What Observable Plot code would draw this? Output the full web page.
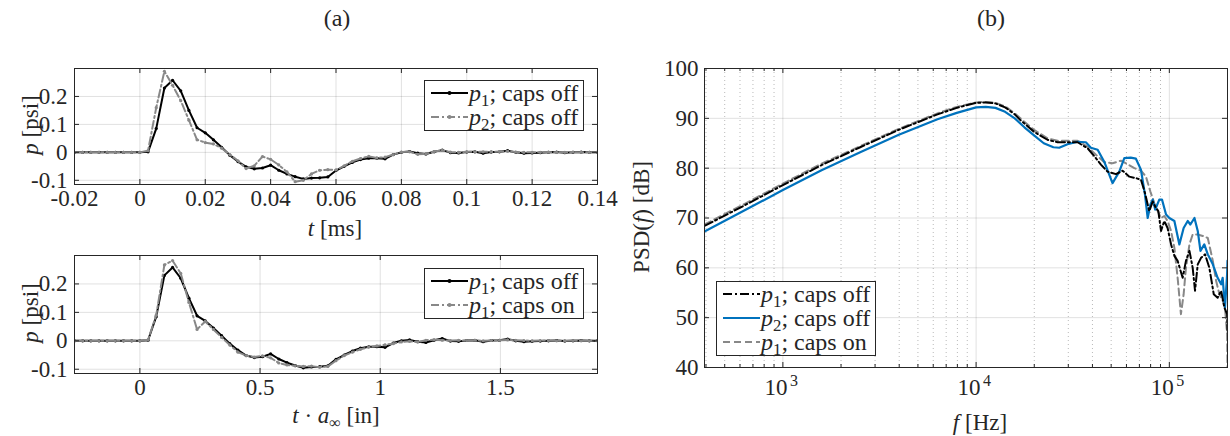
<!DOCTYPE html>
<html><head><meta charset="utf-8">
<script src="https://cdn.jsdelivr.net/npm/d3@7"></script>
<script src="https://cdn.jsdelivr.net/npm/@observablehq/plot@0.6"></script>
<style>
html,body{margin:0;padding:0;background:#fff;}
#wrap{position:relative;width:1230px;height:436px;overflow:hidden;font-family:"Liberation Serif","Times New Roman",serif;color:#262626;background:#fff;}
.lbl{position:absolute;white-space:nowrap;font-size:23px;line-height:1;}
.sub{font-size:0.7em;position:relative;top:0.3em;}
.leg{position:absolute;border:1px solid #262626;background:#fff;box-sizing:border-box;}
.row{position:absolute;left:0;right:0;height:22px;}
.row svg{position:absolute;top:0;}
.row span.t{position:absolute;font-size:24px;line-height:22px;white-space:nowrap;}
</style></head>
<body><div id="wrap"></div>
<script>
// ---------- data ----------
const tMs = [-0.02,-0.0175,-0.015,-0.0125,-0.01,-0.0075,-0.005,-0.0025,0,0.0025,0.005,0.0075,0.01,0.0125,0.015,0.0175,0.02,0.0225,0.025,0.0275,0.03,0.0325,0.035,0.0375,0.04,0.0425,0.045,0.0475,0.05,0.0525,0.055,0.0575,0.06,0.0625,0.065,0.0675,0.07,0.0725,0.075,0.0775,0.08,0.0825,0.085,0.0875,0.09,0.0925,0.095,0.0975,0.1,0.1025,0.105,0.1075,0.11,0.1125,0.115,0.1175,0.12,0.1225,0.125,0.1275,0.13,0.1325,0.135,0.1375,0.14];
const p1CapsOff = [0,0,0,0,0,0,0,0,0,0.002,0.085,0.23,0.258,0.22,0.15,0.088,0.07,0.045,0.018,-0.01,-0.033,-0.052,-0.059,-0.056,-0.046,-0.064,-0.077,-0.087,-0.095,-0.092,-0.091,-0.088,-0.065,-0.05,-0.036,-0.026,-0.021,-0.021,-0.023,-0.008,0,0.003,-0.003,-0.006,0.002,0.008,-0.001,-0.002,0.001,0.002,-0.003,0.001,0.002,0.006,0,-0.003,-0.002,-0.001,0,0.001,-0.001,0,0.001,0,0];
const p2CapsOff = [0,0,0,0,0,0,0,0,0,0.006,0.16,0.29,0.24,0.185,0.115,0.045,0.035,0.03,0.015,-0.008,-0.03,-0.058,-0.048,-0.015,-0.025,-0.045,-0.07,-0.105,-0.1,-0.077,-0.064,-0.062,-0.063,-0.048,-0.032,-0.022,-0.014,-0.02,-0.017,-0.008,0.001,0.002,-0.007,-0.006,0.003,0.007,0.001,0,0.002,0.002,0.002,0.002,0.003,0.004,0.001,0,0,0,0.001,0,0,0.001,0,0,0];
const p1CapsOn = [0,0,0,0,0,0,0,0,0,0.003,0.09,0.267,0.282,0.237,0.135,0.04,0.068,0.04,0.012,-0.015,-0.04,-0.052,-0.057,-0.053,-0.06,-0.078,-0.085,-0.088,-0.09,-0.089,-0.093,-0.09,-0.07,-0.052,-0.04,-0.03,-0.022,-0.018,-0.014,-0.01,-0.004,-0.002,-0.004,0.002,0.004,0.002,0.001,0.002,0.001,0.002,0,0.001,0.002,0.003,0.002,0.001,0,0.001,0.001,0,0,0.001,0,0,0];
const aInf = 13.6; // speed of sound, in/ms

const fP1Off = [393,631,1000,1585,2512,3981,6310,7943,10000,11220,12590,14130,15850,17000,19950,23390,26390,29720,33500,37760,41690,44260,47860,52970,57280,62090,67140,71290,74820,78700,82040,85310,87700,90570,94190,97950,102100,106200,110400,117200,121900,127100,132100,135800,140300,145900,153100,161100,169800,177800,185400,192800,199100,200000];
const psdP1Off = [68.4,72.5,76.6,80.6,84.2,87.7,90.8,92.1,93.1,93.2,93.0,92.2,90.8,89.6,87.3,85.7,85.2,85.2,85.2,84.0,82.0,80.7,79.3,78.8,79.5,78.3,78.0,77.7,75.0,71.4,73.3,72.0,71.4,67.4,69.4,68.0,64.7,62.4,61.4,58.0,61.4,63.4,60.0,55.4,60.7,62.0,62.7,60.0,54.7,54.0,55.4,52.0,50.7,47.4];
const fP2Off = [393,631,1000,1585,2512,3981,6310,7943,10000,11220,12590,14130,15850,17780,19950,22390,25120,26920,29720,33500,36980,39260,42560,46030,50820,55080,58480,63100,67140,71290,74820,77270,79800,82040,84530,88720,91620,96160,100000,106200,112700,118600,124500,128500,134900,140300,144900,151700,158100,167900,177800,185400,188800,194100,199100,200000];
const psdP2Off = [67.3,71.5,75.6,79.6,83.2,86.7,89.8,91.1,92.2,92.3,92.1,91.3,90.0,88.2,86.6,85.0,84.2,84.1,84.8,85.3,85.2,84.1,83.7,81.3,77.0,79.3,82.0,82.1,81.9,79.7,74.7,70.0,72.7,73.7,71.7,73.7,73.7,70.7,70.0,69.4,64.7,68.0,69.4,68.7,70.0,67.4,63.4,64.7,62.7,60.7,58.0,56.7,58.0,52.0,58.7,61.4];
const fP1On = [393,631,1000,1585,2512,3981,6310,7943,10000,11220,12590,14130,15850,17780,19950,23390,26390,29720,33500,37760,41690,46030,50820,56230,60810,65920,71290,75680,79800,83560,87100,90570,94190,97950,102100,106200,110400,114800,118600,121900,127100,132100,140300,148900,158100,167900,174600,181600,188800,194100,199100,200000];
const psdP1On = [68.7,72.8,76.9,80.9,84.4,87.9,91.0,92.3,93.2,93.3,93.1,92.4,91.0,89.3,87.7,86.0,85.5,85.5,85.5,84.3,82.7,81.2,81.0,81.5,80.8,80.0,79.5,78.3,75.3,73.0,71.4,70.0,70.4,69.4,67.4,64.0,58.0,50.7,54.7,60.0,64.7,66.7,66.7,66.4,66.0,61.4,57.4,54.7,53.4,52.0,46.7,40];

const xTicksT = [-0.02,0,0.02,0.04,0.06,0.08,0.1,0.12,0.14];
const xTicksTa = [0,0.5,1,1.5];
const yTicksP = [-0.1,0,0.1,0.2];
const xTicksF = [1e3,1e4,1e5];
const xTickExp = ["3","4","5"];
const xMinorF = [400,500,600,700,800,900,2000,3000,4000,5000,6000,7000,8000,9000,20000,30000,40000,50000,60000,70000,80000,90000,200000];
const yTicksPSD = [40,50,60,70,80,90,100];

// ---------- helpers ----------
const wrap = document.getElementById("wrap");
const AX = "#262626", GRAY = "#888888", BLUE = "#0072BD";
const FONT = '"Liberation Serif","Times New Roman",serif';
const FS = 23;
function place(node, left, top){ node.style.position="absolute"; node.style.left=left+"px"; node.style.top=top+"px"; wrap.appendChild(node); }
function label(html, cx, cy, rot, size){
  const d=document.createElement("div"); d.className="lbl"; d.innerHTML=html;
  d.style.left=cx+"px"; d.style.top=cy+"px";
  if(size) d.style.fontSize=size+"px";
  d.style.transform="translate(-50%,-50%)"+(rot?" rotate(-90deg)":"");
  wrap.appendChild(d);
}
function legend(left, top, w, h, rows){
  const L=document.createElement("div"); L.className="leg";
  Object.assign(L.style,{left:left+"px",top:top+"px",width:w+"px",height:h+"px"});
  rows.forEach(r=>{
    const R=document.createElement("div"); R.className="row"; R.style.top=(r.cy-11)+"px";
    const ns="http://www.w3.org/2000/svg";
    const s=document.createElementNS(ns,"svg"); s.setAttribute("width",38); s.setAttribute("height",22);
    s.style.left=r.x0+"px";
    const ln=document.createElementNS(ns,"line");
    ln.setAttribute("x1",0);ln.setAttribute("x2",37);ln.setAttribute("y1",11);ln.setAttribute("y2",11);
    ln.setAttribute("stroke",r.color);ln.setAttribute("stroke-width",2);
    if(r.dash) ln.setAttribute("stroke-dasharray",r.dash);
    s.appendChild(ln);
    if(r.marker){const c=document.createElementNS(ns,"circle");c.setAttribute("cx",18.5);c.setAttribute("cy",11);c.setAttribute("r",2);c.setAttribute("fill",r.color);s.appendChild(c);}
    R.appendChild(s);
    const t=document.createElement("span"); t.className="t"; t.innerHTML=r.html; t.style.left=(r.x0+38)+"px";
    R.appendChild(t); L.appendChild(R);
  });
  wrap.appendChild(L);
}
const fmt = d => String(d);
function inwardTicks(xt, yt, pw, ph, len){
  return [
    Plot.tickX(xt,{x:d=>d,insetTop:ph-len,stroke:AX}),
    Plot.tickX(xt,{x:d=>d,insetBottom:ph-len,stroke:AX}),
    Plot.tickY(yt,{y:d=>d,insetRight:pw-len,stroke:AX}),
    Plot.tickY(yt,{y:d=>d,insetLeft:pw-len,stroke:AX})
  ];
}

// ---------- time panels ----------
function timePanel(top, frameH, xs, xDomain, xTicks, series){
  const mL=74, mR=23, mT=10, mB=40, W=620, H=mT+frameH+mB;
  const pw=W-mL-mR, ph=frameH;
  const marks=[
    Plot.gridX(xTicks,{stroke:"#000",strokeOpacity:0.12}),
    Plot.gridY(yTicksP,{stroke:"#000",strokeOpacity:0.12})
  ];
  series.forEach(s=>{
    marks.push(Plot.line(s.v,{x:xs,y:s.v,stroke:s.color,strokeWidth:2,strokeDasharray:s.dash,clip:true}));
    marks.push(Plot.dot(s.v,{x:xs,y:s.v,fill:s.color,r:1.6,stroke:null,clip:true}));
  });
  marks.push(Plot.frame({stroke:AX,strokeWidth:1}));
  marks.push(...inwardTicks(xTicks,yTicksP,pw,ph,5));
  marks.push(Plot.axisX(xTicks,{tickSize:0,tickPadding:5,tickFormat:fmt,label:null,fontSize:FS}));
  marks.push(Plot.axisY(yTicksP,{tickSize:0,tickPadding:7,tickFormat:fmt,label:null,fontSize:FS}));
  const svg=Plot.plot({width:W,height:H,marginLeft:mL,marginRight:mR,marginTop:mT,marginBottom:mB,
    x:{domain:xDomain},y:{domain:[-0.115,0.30]},
    style:{fontFamily:FONT,fontSize:FS+"px",color:AX,background:"transparent",overflow:"visible"},
    marks});
  place(svg,0,top-mT);
}
timePanel(68,116,tMs,[-0.02,0.14],xTicksT,[
  {v:p1CapsOff,color:"#000"},
  {v:p2CapsOff,color:GRAY,dash:"8,3,2,3"}
]);
const xIn = tMs.map(t=>t*aInf);
timePanel(255,118,xIn,[-0.02*aInf,0.14*aInf],xTicksTa,[
  {v:p1CapsOff,color:"#000"},
  {v:p1CapsOn,color:GRAY,dash:"8,3,2,3"}
]);

// ---------- PSD panel ----------
(function(){
  const mL=84, mR=13, mT=10, mB=40, W=620, frameH=299, H=mT+frameH+mB;
  const pw=W-mL-mR, ph=frameH;
  const marks=[
    Plot.gridX(xMinorF,{stroke:"#000",strokeOpacity:0.28,strokeDasharray:"1,3"}),
    Plot.gridX(xTicksF,{stroke:"#000",strokeOpacity:0.12}),
    Plot.gridY(yTicksPSD,{stroke:"#000",strokeOpacity:0.12}),
    Plot.line(psdP1On,{x:fP1On,y:psdP1On,stroke:GRAY,strokeWidth:2,strokeDasharray:"7,4",clip:true}),
    Plot.line(psdP2Off,{x:fP2Off,y:psdP2Off,stroke:BLUE,strokeWidth:2.2,clip:true}),
    Plot.line(psdP1Off,{x:fP1Off,y:psdP1Off,stroke:"#000",strokeWidth:2,strokeDasharray:"9,3,2,3",clip:true}),
    Plot.frame({stroke:AX,strokeWidth:1}),
    ...inwardTicks(xTicksF,yTicksPSD,pw,ph,5),
    Plot.tickX(xMinorF,{x:d=>d,insetTop:ph-3,stroke:AX}),
    Plot.tickX(xMinorF,{x:d=>d,insetBottom:ph-3,stroke:AX}),
    // 10^n tick labels: base and raised exponent
    Plot.text(xTicksF,{x:d=>d,frameAnchor:"bottom",text:()=>"10",dx:-7,dy:27,fontSize:FS,fill:AX}),
    Plot.text(xTicksF,{x:d=>d,frameAnchor:"bottom",text:(d,i)=>xTickExp[i],dx:11,dy:18,fontSize:16,fill:AX}),
    Plot.axisY(yTicksPSD,{tickSize:0,tickPadding:6,label:null,fontSize:FS,tickFormat:fmt})
  ];
  const svg=Plot.plot({width:W,height:H,marginLeft:mL,marginRight:mR,marginTop:mT,marginBottom:mB,
    x:{type:"log",domain:[393,2e5],axis:null},y:{domain:[40,100]},
    style:{fontFamily:FONT,fontSize:FS+"px",color:AX,background:"transparent",overflow:"visible"},
    marks});
  place(svg,620,67.7-mT);
})();

// ---------- text ----------
label("(a)",337,18,false,24);
label("(b)",991,18,false,24);
label("<i>t</i> [ms]",335,228);
label("<i>p</i> [psi]",30,125,true);
label("<i>p</i> [psi]",30,313,true);
label("<i>t</i> · <i>a</i><span class='sub'>∞</span> [in]",336,415);
label("PSD(<i>f</i>) [dB]",641,217,true);
label("<i>f</i> [Hz]",980,422);

legend(424,80,160,51,[
  {cy:12,x0:6,color:"#000",marker:true,html:"<i>p</i><span class='sub'>1</span>; caps off"},
  {cy:36,x0:6,color:GRAY,marker:true,dash:"8,3,2,3",html:"<i>p</i><span class='sub'>2</span>; caps off"}
]);
legend(424,268,160,51,[
  {cy:12,x0:6,color:"#000",marker:true,html:"<i>p</i><span class='sub'>1</span>; caps off"},
  {cy:36,x0:6,color:GRAY,marker:true,dash:"8,3,2,3",html:"<i>p</i><span class='sub'>1</span>; caps on"}
]);
legend(716,281,160,75,[
  {cy:12,x0:6,color:"#000",dash:"9,3,2,3",html:"<i>p</i><span class='sub'>1</span>; caps off"},
  {cy:36,x0:6,color:BLUE,html:"<i>p</i><span class='sub'>2</span>; caps off"},
  {cy:60,x0:6,color:GRAY,dash:"7,4",html:"<i>p</i><span class='sub'>1</span>; caps on"}
]);
</script>
</body></html>
